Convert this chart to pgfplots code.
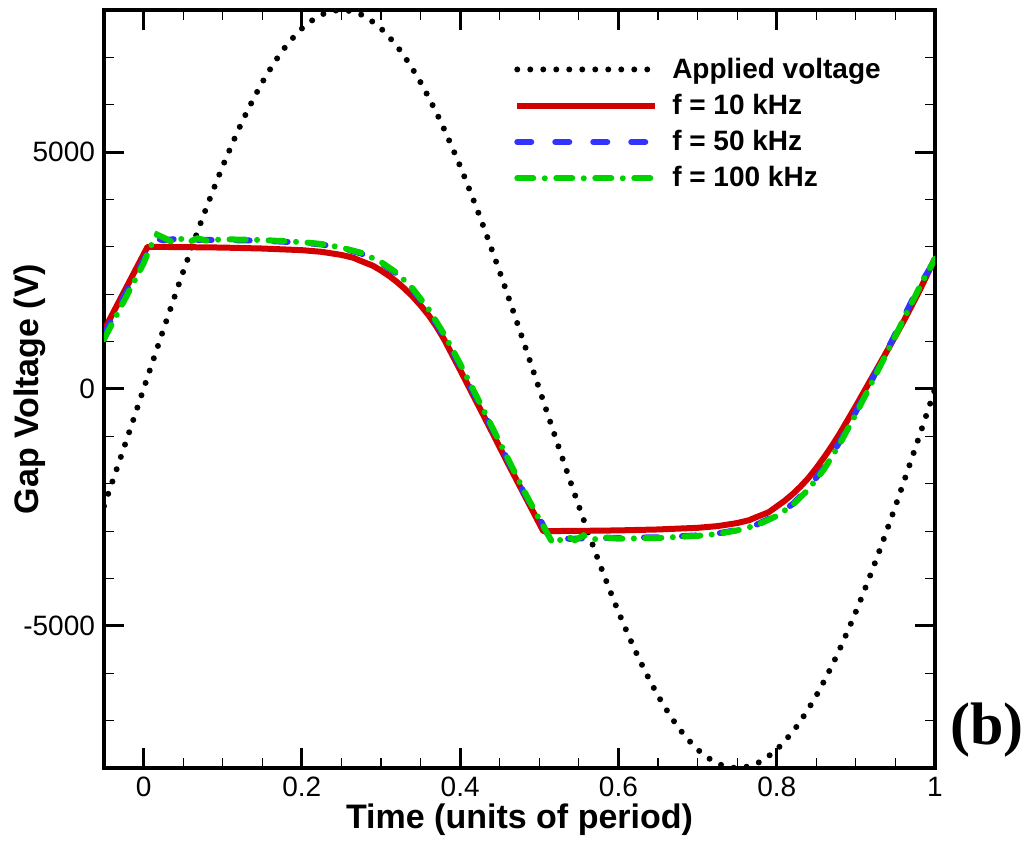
\documentclass[border=0pt]{standalone}
\usepackage{fontspec}
\setmainfont{Liberation Sans}
\newfontfamily\labfont{Liberation Sans}
\newfontfamily\tickfont{Liberation Sans}
\newfontfamily\bfont{Liberation Serif}
\usepackage{pgfplots}
\pgfplotsset{compat=1.18}
\definecolor{cred}{RGB}{210,0,0}
\definecolor{cblue}{RGB}{51,51,255}
\definecolor{cgreen}{RGB}{0,210,0}
\begin{document}
\begin{tikzpicture}
\useasboundingbox (-52pt,-38.5pt) rectangle (461.5pt,384pt);
\begin{axis}[
  scale only axis, width=415.5pt, height=379pt,
  at={(0,0)}, anchor=south west,
  xmin=-0.05, xmax=1, ymin=-8000, ymax=8000,
  axis line style={line width=2pt},
  xtick={0,0.2,0.4,0.6,0.8,1}, xticklabels={0,0.2,0.4,0.6,0.8,1},
  ytick={-5000,0,5000}, yticklabels={-5000,0,5000},
  minor xtick={0.05,0.1,0.15,0.25,0.3,0.35,0.45,0.5,0.55,0.65,0.7,0.75,0.85,0.9,0.95},
  minor ytick={-7000,-6000,-4000,-3000,-2000,-1000,1000,2000,3000,4000,6000,7000},
  tick align=inside, major tick length=10pt, minor tick length=5pt,
  every major tick/.append style={line width=1.5pt, black},
  every minor tick/.append style={line width=0.6pt, black},
  tick label style={font=\fontsize{14}{16}\tickfont},
  xticklabel style={yshift=-1pt},
  yticklabel style={xshift=-1pt},
  xlabel={Time (units of period)}, ylabel={Gap Voltage (V)},
  label style={font=\fontsize{17}{19}\labfont\bfseries},
  xlabel style={at={(axis description cs:0.5,-0.0686)}, anchor=center},
  ylabel style={at={(axis description cs:-0.089,0.5)}, anchor=center},
  legend cell align=left,
  legend style={draw=none, fill=none, at={(rel axis cs:0.486,0.948)}, anchor=north west,
    font=\fontsize{14}{16}\tickfont\bfseries, row sep=2.5pt},
  legend image code/.code={\draw[#1] (0pt,0pt) -- (69pt,0pt); \path (74pt,0pt);},
]
\addplot[black, line width=3pt, line cap=round, dash pattern=on 0pt off 6.5pt, smooth] coordinates {
(-0.05,-2472) (-0.025,-1251) (0,0) (0.025,1251) (0.05,2472) (0.075,3632) (0.1,4702) (0.125,5657) (0.15,6472) (0.175,7128) (0.2,7608) (0.225,7902) (0.25,8000) (0.275,7902) (0.3,7608) (0.325,7128) (0.35,6472) (0.375,5657) (0.4,4702) (0.425,3632) (0.45,2472) (0.475,1251) (0.5,0) (0.525,-1251) (0.55,-2472) (0.575,-3632) (0.6,-4702) (0.625,-5657) (0.65,-6472) (0.675,-7128) (0.7,-7608) (0.725,-7902) (0.75,-8000) (0.775,-7902) (0.8,-7608) (0.825,-7128) (0.85,-6472) (0.875,-5657) (0.9,-4702) (0.925,-3632) (0.95,-2472) (0.975,-1251) (1.0,0)
};
\addlegendentry{Applied voltage}
\addplot[cred, line width=3pt, line join=round] coordinates {
(-0.05,1240) (-0.025,2040) (0,2840) (0.005,3000) (0.05,2995) (0.1,2985) (0.15,2965) (0.2,2930) (0.225,2895) (0.25,2830) (0.265,2770) (0.275,2700) (0.29,2600) (0.3,2500) (0.31,2390) (0.32,2260) (0.33,2115) (0.34,1950) (0.35,1765) (0.36,1560) (0.37,1320) (0.38,1040) (0.4,400) (0.42,-250) (0.44,-900) (0.46,-1560) (0.48,-2200) (0.505,-3000) (0.55,-2995) (0.6,-2985) (0.65,-2965) (0.7,-2930) (0.725,-2895) (0.75,-2830) (0.765,-2770) (0.775,-2700) (0.79,-2600) (0.8,-2480) (0.81,-2360) (0.82,-2220) (0.83,-2060) (0.84,-1880) (0.85,-1670) (0.86,-1440) (0.87,-1195) (0.88,-930) (0.9,-360) (0.92,230) (0.94,820) (0.96,1420) (0.98,2060) (1.0,2760)
};
\addlegendentry{f = 10 kHz}
\addplot[cblue, line width=3pt, line cap=round, dash pattern=on 7pt off 12pt] coordinates {
(-0.05,1150) (-0.025,1950) (0,2720) (0.014,3180) (0.025,3140) (0.04,3165) (0.06,3145) (0.1,3145) (0.15,3130) (0.2,3090) (0.225,3050) (0.25,2975) (0.275,2860) (0.3,2660) (0.32,2430) (0.34,2090) (0.36,1650) (0.38,1100) (0.4,480) (0.42,-180) (0.44,-830) (0.46,-1500) (0.48,-2170) (0.5,-2720) (0.514,-3180) (0.525,-3140) (0.54,-3165) (0.56,-3145) (0.6,-3145) (0.65,-3130) (0.7,-3090) (0.725,-3050) (0.75,-2975) (0.775,-2860) (0.8,-2660) (0.82,-2430) (0.84,-2090) (0.86,-1650) (0.88,-1100) (0.9,-480) (0.92,180) (0.94,830) (0.96,1500) (0.98,2170) (1.0,2720)
};
\addlegendentry{f = 50 kHz}
\addplot[cgreen, line width=3pt, line cap=round, dash pattern=on 8pt off 5.75pt on 0pt off 5.75pt] coordinates {
(-0.05,1050) (-0.025,1850) (0,2650) (0.008,2980) (0.017,3260) (0.026,3190) (0.035,3110) (0.045,3190) (0.056,3090) (0.068,3180) (0.08,3130) (0.1,3160) (0.15,3145) (0.2,3100) (0.225,3060) (0.25,2985) (0.275,2875) (0.3,2680) (0.32,2450) (0.34,2120) (0.36,1690) (0.38,1150) (0.4,530) (0.42,-130) (0.44,-790) (0.46,-1460) (0.48,-2130) (0.5,-2750) (0.508,-2980) (0.517,-3260) (0.526,-3190) (0.535,-3110) (0.545,-3190) (0.556,-3090) (0.568,-3180) (0.58,-3130) (0.6,-3160) (0.65,-3145) (0.7,-3100) (0.725,-3060) (0.75,-2985) (0.775,-2875) (0.8,-2680) (0.82,-2450) (0.84,-2120) (0.86,-1690) (0.88,-1150) (0.9,-530) (0.92,130) (0.94,790) (0.96,1460) (0.98,2130) (1.0,2750)
};
\addlegendentry{f = 100 kHz}
\end{axis}
\node[font=\fontsize{30}{33}\bfont\bfseries] at (441.5pt,19pt) {(b)};
\end{tikzpicture}
\end{document}
